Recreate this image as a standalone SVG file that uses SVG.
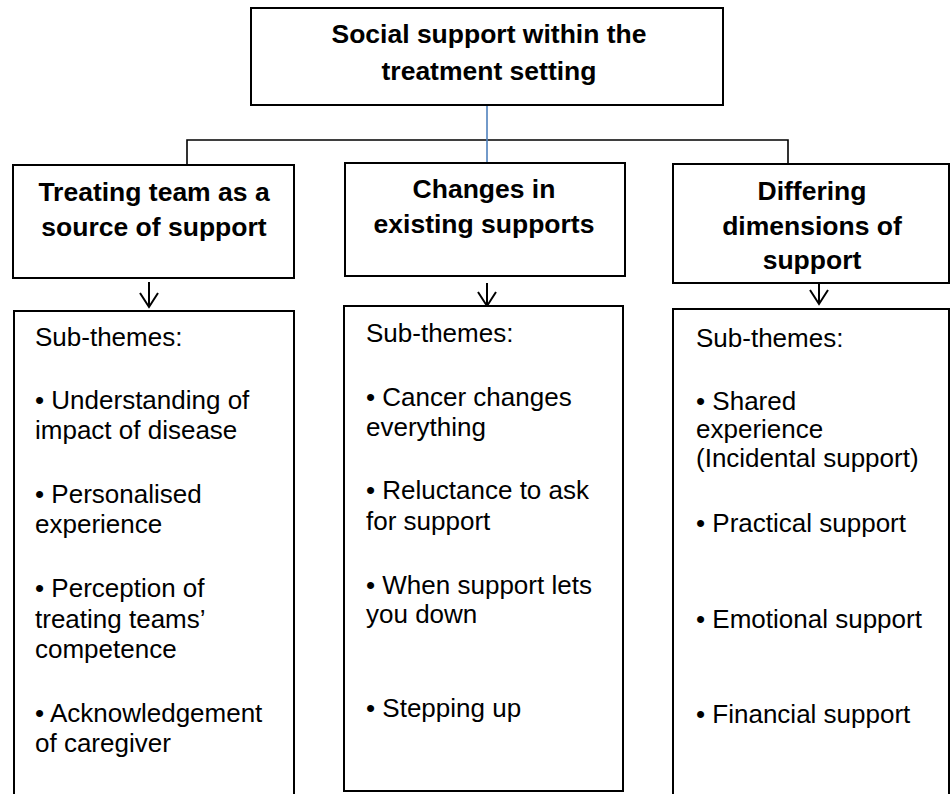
<svg xmlns="http://www.w3.org/2000/svg" width="951" height="794" viewBox="0 0 951 794">
<style>
  .box { fill: #ffffff; stroke: #000000; stroke-width: 2; }
  .head { font-family: "Liberation Sans", Arial, sans-serif; font-weight: bold; font-size: 26.5px; text-anchor: middle; fill: #000; }
  .body { font-family: "Liberation Sans", Arial, sans-serif; font-size: 26px; fill: #000; }
  .conn { fill: none; stroke: #000; stroke-width: 1.6; }
  .arrow { fill: none; stroke: #000; stroke-width: 2; }
</style>
<rect width="951" height="794" fill="#ffffff"/>

<g id="connectors">
  <polyline class="conn" points="187,165 187,140 788,140 788,164"/>
  <line x1="487" y1="105" x2="487" y2="165" stroke="#4f81bd" stroke-width="1.6"/>
  <g class="arrow">
    <line x1="149" y1="282" x2="149" y2="307"/>
    <polyline points="140,293 149,307 158,293"/>
    <line x1="487" y1="283" x2="487" y2="305"/>
    <polyline points="478,292 487,306 496,292"/>
    <line x1="819" y1="283" x2="819" y2="304"/>
    <polyline points="810,290 819,304 828,290"/>
  </g>
</g>

<g id="root">
  <rect class="box" x="251" y="8" width="472" height="97"/>
  <text class="head" x="489" y="43">Social support within the</text>
  <text class="head" x="489" y="80">treatment setting</text>
</g>

<g id="theme1">
  <rect class="box" x="13" y="165" width="281" height="113"/>
  <text class="head" x="154" y="201">Treating team as a</text>
  <text class="head" x="154" y="236">source of support</text>
</g>

<g id="theme2">
  <rect class="box" x="345" y="163" width="280" height="113"/>
  <text class="head" x="484" y="198">Changes in</text>
  <text class="head" x="484" y="233">existing supports</text>
</g>

<g id="theme3">
  <rect class="box" x="673" y="164" width="276" height="119"/>
  <text class="head" x="812" y="200">Differing</text>
  <text class="head" x="812" y="235">dimensions of</text>
  <text class="head" x="812" y="269">support</text>
</g>

<g id="sub1">
  <rect class="box" x="14" y="311" width="280" height="500"/>
  <text class="body" x="35" y="346">Sub-themes:</text>
  <text class="body" x="35" y="409">• Understanding of</text>
  <text class="body" x="35" y="439">impact of disease</text>
  <text class="body" x="35" y="503">• Personalised</text>
  <text class="body" x="35" y="533">experience</text>
  <text class="body" x="35" y="597">• Perception of</text>
  <text class="body" x="35" y="628">treating teams’</text>
  <text class="body" x="35" y="658">competence</text>
  <text class="body" x="35" y="722">• Acknowledgement</text>
  <text class="body" x="35" y="752">of caregiver</text>
</g>

<g id="sub2">
  <rect class="box" x="344" y="306" width="279" height="485"/>
  <text class="body" x="366" y="342">Sub-themes:</text>
  <text class="body" x="366" y="406">• Cancer changes</text>
  <text class="body" x="366" y="436">everything</text>
  <text class="body" x="366" y="499">• Reluctance to ask</text>
  <text class="body" x="366" y="530">for support</text>
  <text class="body" x="366" y="594">• When support lets</text>
  <text class="body" x="366" y="623">you down</text>
  <text class="body" x="366" y="717">• Stepping up</text>
</g>

<g id="sub3">
  <rect class="box" x="673" y="309" width="276" height="500"/>
  <text class="body" x="696" y="347">Sub-themes:</text>
  <text class="body" x="696" y="410">• Shared</text>
  <text class="body" x="696" y="438">experience</text>
  <text class="body" x="696" y="467">(Incidental support)</text>
  <text class="body" x="696" y="532">• Practical support</text>
  <text class="body" x="696" y="628">• Emotional support</text>
  <text class="body" x="696" y="723">• Financial support</text>
</g>
</svg>
